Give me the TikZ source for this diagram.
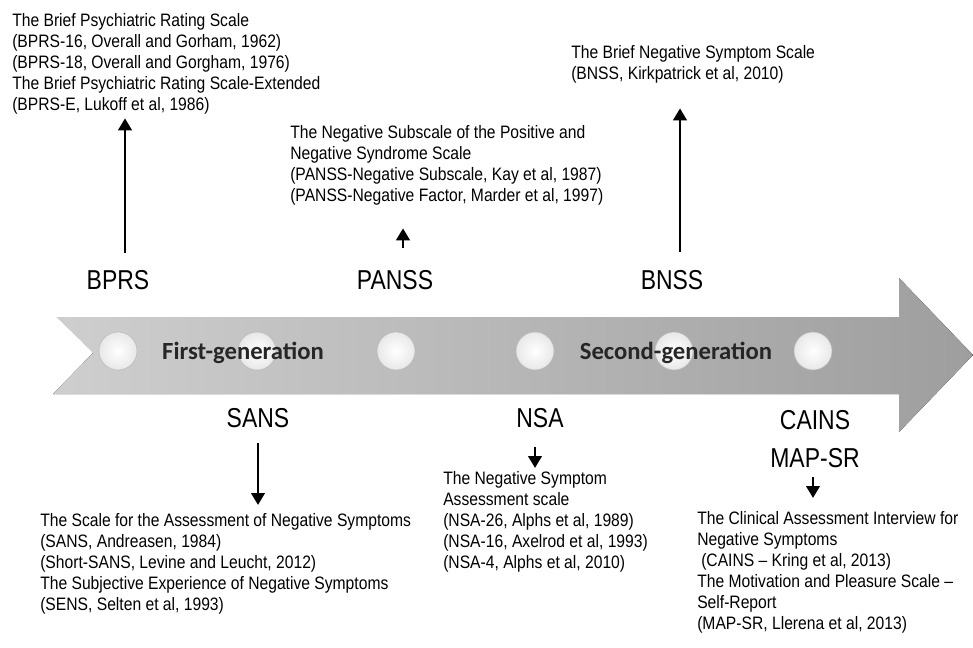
\documentclass[tikz,border=0pt]{standalone}
\usepackage{fontspec}
\setmainfont{Liberation Sans}
\newfontfamily\reffont{Liberation Sans}[FakeStretch=0.87]
\newfontfamily\labelfont{Liberation Sans}[FakeStretch=0.84]
\newfontfamily\genfont{Carlito}
\usetikzlibrary{positioning}
\usetikzlibrary{arrows.meta}
\tikzset{
    mylabel/.style = {inner sep=0pt, font=\labelfont\fontsize{20.5}{24}\selectfont, text=black},
    myref/.style = {inner sep=0pt, anchor=north west, align=left, font=\reffont\fontsize{13.5}{15.75}\selectfont, text=black},
    mygen/.style = {inner sep=0pt, font=\genfont\bfseries\fontsize{18.5}{22}\selectfont, text=black!85},
    myball/.style = {circle, minimum size=28.5pt, inner sep=0pt, draw=gray!55, thin, shading=radial, inner color=white, outer color=gray!18},
    edgeup/.style = {-{Triangle[width=10pt,length=9pt]}, line width=2.2pt, black},
    myband/.style = {left color=gray!38, right color=gray!76}
}
\begin{document}
\begin{tikzpicture}[x=0.75pt,y=-0.75pt]
\useasboundingbox (0,0) rectangle (973,647);
% time line
\fill[myband] (53,315) -- (899,315) -- (899,278) -- (973,355) -- (899,432) -- (899,394) -- (53,394) -- (93,353) -- cycle;
\draw[white, line width=1.2pt] (899,316) -- (54,316) -- (92,353);
\foreach \i in {0,...,5}
    \node[myball] at (118+139*\i, 351) (ball\i) {};
\node[mygen] at (243,353) (gen1) {First-generation};
\node[mygen] at (676,353) (gen2) {Second-generation};
%
\node[mylabel] at (118,280) (bprs) {BPRS};
\node[mylabel] at (395,280) (panss) {PANSS};
\node[mylabel] at (672,280) (bnss) {BNSS};
\node[mylabel] at (258,418) (sans) {SANS};
\node[mylabel] at (540,418) (nsa) {NSA};
\node[mylabel] at (815,420) (cains) {CAINS};
\node[mylabel] at (815,458) (mapsr) {MAP-SR};
%
\node[myref] at (12,13) (bprsref) {The Brief Psychiatric Rating Scale\\(BPRS-16, Overall and Gorham, 1962)\\(BPRS-18, Overall and Gorgham, 1976)\\The Brief Psychiatric Rating Scale-Extended\\(BPRS-E, Lukoff et al, 1986)};
\node[myref] at (290,125) (panssref) {The Negative Subscale of the Positive and\\Negative Syndrome Scale\\(PANSS-Negative Subscale, Kay et al, 1987)\\(PANSS-Negative Factor, Marder et al, 1997)};
\node[myref] at (571,45) (bnssref) {The Brief Negative Symptom Scale\\(BNSS, Kirkpatrick et al, 2010)};
\node[myref] at (40,513) (sansref) {The Scale for the Assessment of Negative Symptoms\\(SANS, Andreasen, 1984)\\(Short-SANS, Levine and Leucht, 2012)\\The Subjective Experience of Negative Symptoms\\(SENS, Selten et al, 1993)};
\node[myref] at (443,471) (nsaref) {The Negative Symptom\\Assessment scale\\(NSA-26, Alphs et al, 1989)\\(NSA-16, Axelrod et al, 1993)\\(NSA-4, Alphs et al, 2010)};
\node[myref] at (697,511) (cainsref) {The Clinical Assessment Interview for\\Negative Symptoms\\\hspace{3pt}(CAINS – Kring et al, 2013)\\The Motivation and Pleasure Scale –\\Self-Report\\(MAP-SR, Llerena et al, 2013)};
%
\coordinate (xa) at (125,0);
\coordinate (xb) at (403,0);
\coordinate (xc) at (680,0);
\coordinate (xd) at (258,0);
\coordinate (xe) at (535,0);
\coordinate (xf) at (813,0);
\draw[edgeup, shorten <=12.75pt, shorten >=3pt] (bprs.north -| xa) -- (bprsref.south -| xa);
\draw[edgeup, shorten <=16.5pt, shorten >=17.25pt] (panss.north -| xb) -- (panssref.south -| xb);
\draw[edgeup, shorten <=13.5pt, shorten >=18.75pt] (bnss.north -| xc) -- (bnssref.south -| xc);
\draw[edgeup, shorten <=11.25pt, shorten >=6pt] (sans.south -| xd) -- (sansref.north -| xd);
\draw[edgeup, shorten <=14.25pt, shorten >=2.25pt] (nsa.south -| xe) -- (nsaref.north -| xe);
\draw[edgeup, shorten <=6.75pt, shorten >=9.75pt] (mapsr.south -| xf) -- (cainsref.north -| xf);
\end{tikzpicture}
\end{document}
